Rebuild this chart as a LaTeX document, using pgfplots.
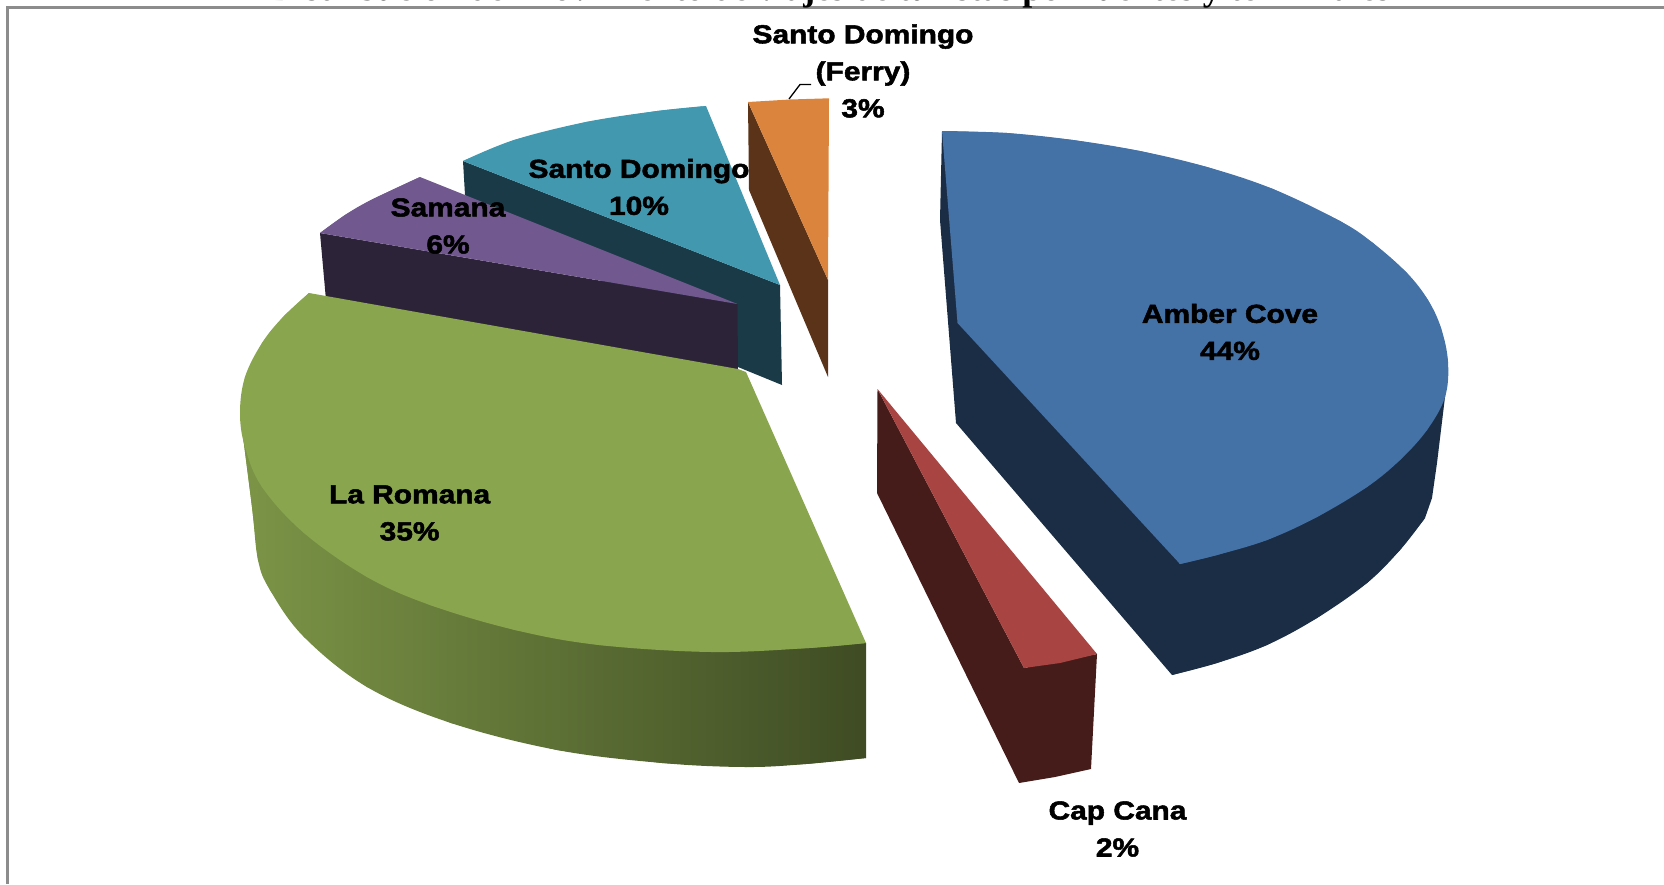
\documentclass[border=0pt]{standalone}
\usepackage{fontspec}
\usepackage{pgfplots}
\pgfplotsset{compat=1.18}
\newfontfamily\lab[FakeBold=2,FakeStretch=1.15]{Liberation Sans Bold}
\newfontfamily\ttl{Liberation Serif Bold}
\definecolor{blueT}{HTML}{4471A6}
\definecolor{blueD}{HTML}{1B2D45}
\definecolor{redT}{HTML}{A84543}
\definecolor{redD}{HTML}{461C1A}
\definecolor{greenT}{HTML}{89A54E}
\definecolor{purpT}{HTML}{71588F}
\definecolor{purpD}{HTML}{2D2339}
\definecolor{tealT}{HTML}{4198AF}
\definecolor{tealD}{HTML}{1A3A47}
\definecolor{orT}{HTML}{DB843D}
\definecolor{orD}{HTML}{5A3318}
\newcommand{\lbl}[3]{\node[font=\lab\fontsize{26}{37}\selectfont,align=center,text=black] at (axis cs:#1,#2) {#3};}
\begin{document}
\begin{tikzpicture}
\path[use as bounding box] (0,0) rectangle (1664pt,884pt);
\begin{axis}[
  at={(0,0)},anchor=south west,
  scale only axis,width=1664pt,height=884pt,
  xmin=0,xmax=1664,ymin=0,ymax=884,y dir=reverse,
  hide axis,clip=false,
  arc/.style={draw=none,smooth,tension=0.6},
  green side/.style={left color=greenT!90!black,middle color=greenT!62!black,right color=greenT!46!black,draw=none},
]
% frame
\addplot[draw=black!45,line width=2.5pt] coordinates {(1664,7.3) (7.3,7.3) (7.3,884)};
% Santo Domingo (Ferry)
\addplot[fill=orD,draw=none] coordinates {(748,102) (749,190) (828,377) (828,280)} -- cycle;
\addplot[fill=orT,draw=none] coordinates {(748,102) (790,99.5) (829,98.3) (828,280)} -- cycle;
% Santo Domingo
\addplot[fill=tealD,draw=none] coordinates {(463,161) (465,195) (738,367) (782,385) (780,285)} -- cycle;
\addplot[fill=tealT,arc] coordinates {(706,106) (657,111) (586,122) (514,140) (463,161)} -- cycle;
\addplot[fill=tealT,draw=none] coordinates {(706,106) (657,111) (586,122) (514,140) (463,161) (780,285)} -- cycle;
% Samana
\addplot[fill=purpD,draw=none] coordinates {(320,233) (326,300) (738,372) (737.5,304)} -- cycle;
\addplot[fill=purpT,arc] coordinates {(420,177) (371,200) (345,215) (320,233)} -- cycle;
\addplot[fill=purpT,draw=none] coordinates {(420,177) (371,200) (345,215) (320,233) (737.5,304)} -- cycle;
% La Romana
\addplot[green side,smooth,tension=0.6] coordinates {(240,413) (252,507) (258,560) (270,590) (304,637) (367,687) (451,723) (557,750) (662,763) (746,767) (806,764) (866,758)} -- cycle;
\addplot[green side] coordinates {(240,413) (252,507) (258,560) (270,590) (304,637) (367,687) (451,723) (557,750) (662,763) (746,767) (806,764) (866,758) (866,643) (740,600)} -- cycle;
\addplot[fill=greenT,arc] coordinates {(866,643) (809,648) (712,652) (599,645) (515,630) (430,605) (367,577) (304,533) (262,487) (245,447) (240,413) (245,377) (262,343) (283,317) (309,293)} -- cycle;
\addplot[fill=greenT,draw=none] coordinates {(866,643) (809,648) (712,652) (599,645) (515,630) (430,605) (367,577) (304,533) (262,487) (245,447) (240,413) (245,377) (262,343) (283,317) (309,293) (738,369) (746,372)} -- cycle;
% Cap Cana
\addplot[fill=redD,draw=none] coordinates {(877.5,389) (877,493) (1019,783) (1055,777) (1091,769) (1097,654) (1024,668)} -- cycle;
\addplot[fill=redT,draw=none] coordinates {(877.5,389) (1097,654) (1060,663) (1024,668)} -- cycle;
% Amber Cove
\addplot[fill=blueD,arc] coordinates {(1172,675) (1217,663) (1267,645) (1317,618) (1367,583) (1400,550) (1425,518)} -- cycle;
\addplot[fill=blueD,draw=none] coordinates {(942,131) (940,220) (956,423) (1172,675) (1217,663) (1267,645) (1317,618) (1367,583) (1400,550) (1425,518) (1432,498) (1437,463) (1445,397) (1448,370) (1180,564)} -- cycle;
\addplot[fill=blueT,arc] coordinates {(942,131) (1007,133) (1073,140) (1140,151) (1207,167) (1273,189) (1340,221) (1373,243) (1407,273) (1428,300) (1441,328) (1448,362) (1445,397) (1427,430) (1400,460) (1367,487) (1317,517) (1267,540) (1217,555) (1180,564)} -- cycle;
\addplot[fill=blueT,draw=none] coordinates {(942,131) (1007,133) (1073,140) (1140,151) (1207,167) (1273,189) (1340,221) (1373,243) (1407,273) (1428,300) (1441,328) (1448,362) (1445,397) (1427,430) (1400,460) (1367,487) (1317,517) (1267,540) (1217,555) (1180,564) (957.5,323)} -- cycle;
% leader
\addplot[black,line width=1.3pt] coordinates {(789,99) (800,84.5) (811,84.5)};
% labels
\lbl{863}{71}{Santo Domingo\\(Ferry)\\3\%}
\lbl{1230}{332}{Amber Cove\\44\%}
\lbl{1117.5}{829}{Cap Cana\\2\%}
\lbl{409.6}{513}{La Romana\\35\%}
\lbl{448}{226}{Samana\\6\%}
\lbl{639}{187}{Santo Domingo\\10\%}
% title, cut by the top of the page as in the reference
\node[anchor=base,font=\ttl\fontsize{35.7}{40}\selectfont,overlay] at (axis cs:830,0.8)
  {Distribución del movimiento de viajes de turistas por fuentes y terminales};
\end{axis}
\end{tikzpicture}
\end{document}
